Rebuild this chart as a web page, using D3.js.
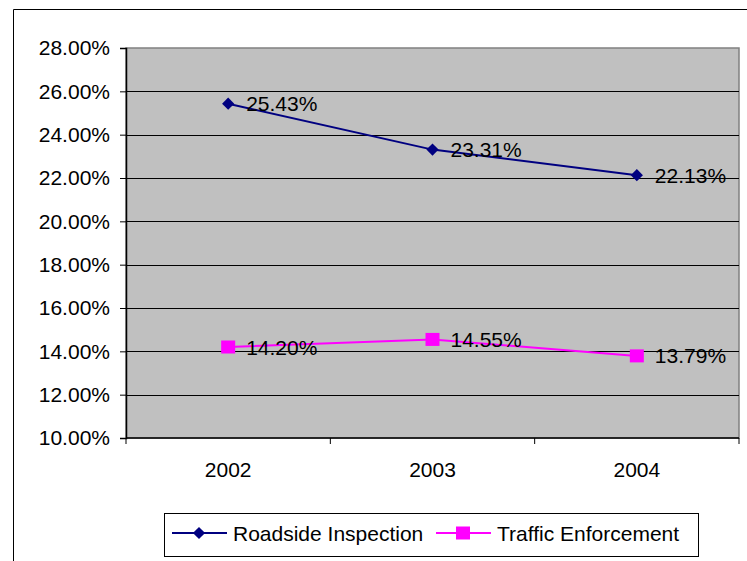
<!DOCTYPE html>
<html>
<head>
<meta charset="utf-8">
<script src="https://cdn.jsdelivr.net/npm/d3@7"></script>
<style>
  body { margin: 0; background: #fff; }
  svg text { font-family: "Liberation Sans", Arial, sans-serif; font-size: 21px; fill: #000; }
</style>
</head>
<body>
<div id="chart"></div>
<script>
'use strict';

// chart values
let years = ['2002', '2003', '2004'];
let roadside = [25.43, 23.31, 22.13];
let traffic = [14.20, 14.55, 13.79];
let yTicks = [10, 12, 14, 16, 18, 20, 22, 24, 26, 28];
let seriesNames = ['Roadside Inspection', 'Traffic Enforcement'];

let width = 747, height = 561;
let plot = { left: 126, top: 48, right: 739, bottom: 438 };

let svg = d3.select('#chart').append('svg')
    .attr('width', width)
    .attr('height', height);

// outer frame (only top and left visible)
svg.append('path')
    .attr('d', 'M13.5,' + height + 'V9.5H' + width)
    .attr('fill', 'none')
    .attr('stroke', '#000')
    .attr('stroke-width', 1);

// scales
let x = d3.scaleBand().domain(years).range([plot.left, plot.right]);
let y = d3.scaleLinear().domain([10, 28]).range([plot.bottom, plot.top]);

// plot background
svg.append('rect')
    .attr('x', plot.left)
    .attr('y', plot.top)
    .attr('width', plot.right - plot.left)
    .attr('height', plot.bottom - plot.top)
    .attr('fill', '#c0c0c0')
    .attr('stroke', '#808080')
    .attr('stroke-width', 1.5);

// gridlines
svg.append('g')
    .selectAll('line')
    .data(yTicks.slice(1, -1))
    .enter().append('line')
    .attr('x1', plot.left)
    .attr('x2', plot.right)
    .attr('y1', function(d) { return Math.round(y(d)) + 0.5; })
    .attr('y2', function(d) { return Math.round(y(d)) + 0.5; })
    .attr('stroke', '#000')
    .attr('stroke-width', 1);

// y axis
let yAxis = d3.axisLeft(y)
    .tickValues(yTicks)
    .tickSize(6)
    .tickPadding(10)
    .tickFormat(function(d) { return d.toFixed(2) + '%'; });

let gy = svg.append('g')
    .attr('transform', 'translate(' + plot.left + ',0)')
    .call(yAxis);
gy.select('.domain').attr('stroke', '#000').attr('stroke-width', 1.5);
gy.selectAll('.tick line').attr('stroke', '#000');
gy.selectAll('text').style('font-size', '21px').attr('fill', '#000');

// x axis: ticks on the band edges
let gx = svg.append('g')
    .attr('transform', 'translate(0,' + plot.bottom + ')');
gx.append('line')
    .attr('x1', plot.left)
    .attr('x2', plot.right)
    .attr('stroke', '#000')
    .attr('stroke-width', 1.5);
let edges = years.map(function(d) { return x(d); }).concat([x(years[years.length - 1]) + x.bandwidth()]);
gx.selectAll('line.tk')
    .data(edges)
    .enter().append('line')
    .attr('class', 'tk')
    .attr('x1', function(d) { return d; })
    .attr('x2', function(d) { return d; })
    .attr('y1', 0)
    .attr('y2', 6)
    .attr('stroke', '#000');
gx.selectAll('text')
    .data(years)
    .enter().append('text')
    .attr('x', function(d) { return x(d) + x.bandwidth() / 2; })
    .attr('y', 31)
    .attr('text-anchor', 'middle')
    .attr('dominant-baseline', 'central')
    .text(function(d) { return d; });

let line = d3.line()
    .x(function(d, i) { return x(years[i]) + x.bandwidth() / 2; })
    .y(function(d) { return y(d); });

let diamond = d3.symbol().type(d3.symbolDiamond2).size(95);

function drawSeries(values, color, isSquare) {
    let g = svg.append('g');
    g.append('path')
        .datum(values)
        .attr('d', line)
        .attr('fill', 'none')
        .attr('stroke', color)
        .attr('stroke-width', 2);
    g.selectAll('.mk')
        .data(values)
        .enter().append(isSquare ? 'rect' : 'path')
        .each(function(d, i) {
            let cx = x(years[i]) + x.bandwidth() / 2;
            let cy = y(d);
            let el = d3.select(this);
            if (isSquare) {
                el.attr('x', cx - 7).attr('y', cy - 6.5).attr('width', 14).attr('height', 13);
            } else {
                el.attr('d', diamond).attr('transform', 'translate(' + cx + ',' + cy + ')');
            }
        })
        .attr('fill', color);
    g.selectAll('.lbl')
        .data(values)
        .enter().append('text')
        .attr('x', function(d, i) { return x(years[i]) + x.bandwidth() / 2 + 18; })
        .attr('y', function(d) { return y(d); })
        .attr('dominant-baseline', 'central')
        .text(function(d) { return d.toFixed(2) + '%'; });
}

drawSeries(roadside, '#000080', false);
drawSeries(traffic, '#ff00ff', true);

// legend
let legend = svg.append('g');
legend.append('rect')
    .attr('x', 164.5)
    .attr('y', 513.5)
    .attr('width', 534)
    .attr('height', 43)
    .attr('fill', '#fff')
    .attr('stroke', '#000')
    .attr('stroke-width', 1);

let legendItems = [
    { name: seriesNames[0], color: '#000080', square: false, x0: 172 },
    { name: seriesNames[1], color: '#ff00ff', square: true, x0: 436 }
];
legendItems.forEach(function(it) {
    let cy = 533;
    legend.append('line')
        .attr('x1', it.x0).attr('x2', it.x0 + 55)
        .attr('y1', cy).attr('y2', cy)
        .attr('stroke', it.color).attr('stroke-width', 2);
    if (it.square) {
        legend.append('rect')
            .attr('x', it.x0 + 27 - 7).attr('y', cy - 6.5)
            .attr('width', 14).attr('height', 13)
            .attr('fill', it.color);
    } else {
        legend.append('path')
            .attr('d', diamond)
            .attr('transform', 'translate(' + (it.x0 + 27) + ',' + cy + ')')
            .attr('fill', it.color);
    }
    legend.append('text')
        .attr('x', it.x0 + 61)
        .attr('y', cy)
        .attr('dominant-baseline', 'central')
        .text(it.name);
});
</script>
</body>
</html>
